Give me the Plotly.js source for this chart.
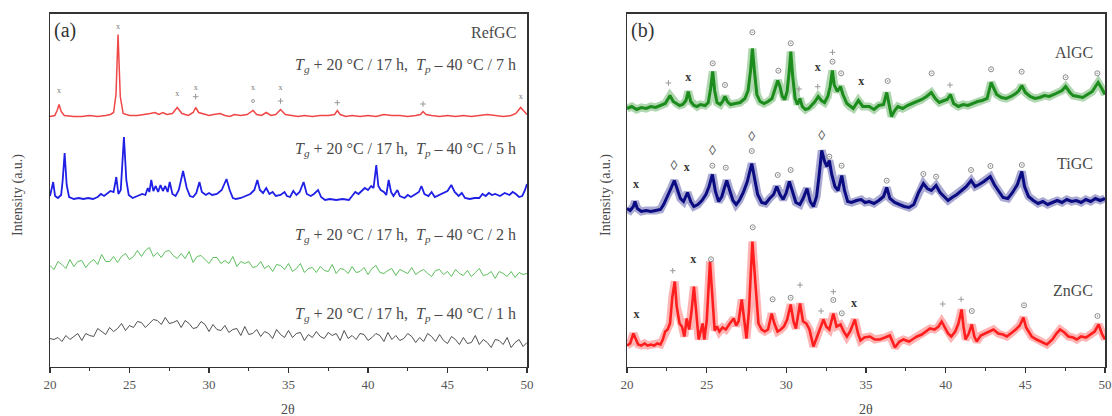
<!DOCTYPE html>
<html><head><meta charset="utf-8">
<script src="https://cdn.plot.ly/plotly-3.0.1.min.js"></script>
<style>html,body{margin:0;padding:0;background:#fff}#chart{width:1112px;height:416px}</style>
</head><body><div id="chart"></div>
<script>
// ---------------- DATA (2θ in degrees, intensity in a.u.) ----------------
// Panel (a)
const refTheta = [20,20.3,20.45,20.57,20.7,20.9,21.5,22,22.5,23,23.5,23.8,24.0,24.15,24.28,24.42,24.6,25,25.5,26,26.3,26.6,26.85,27.1,27.35,27.7,28.0,28.3,28.7,29.0,29.16,29.35,29.7,30.0,30.3,30.7,31.0,31.3,31.6,32.0,32.4,32.77,33.0,33.3,33.6,33.9,34.2,34.5,34.8,35.2,35.6,36.0,36.5,37.0,37.5,37.9,38.07,38.25,38.6,39.0,39.5,40,40.5,41,41.5,42,42.5,43,43.3,43.46,43.65,44,44.5,45,45.5,46,46.5,47,47.5,48,48.5,49,49.3,49.6,49.8,50];
const refInt   = [0,1,6,12,5,1,0,0,1,0,1,2,4,22,82,20,3,1,1,2,3,4,2,4,2,3,9,3,1,4,9,4,2,1,2,3,1,0,2,1,2,6,2,1,4,1,2,7,2,1,0,1,0,1,1,2,6,2,0,1,0,1,0,2,1,1,0,1,2,5,2,1,0,1,0,1,0,1,2,1,0,1,3,9,5,2];

const h5Theta = [20.0,20.1,20.2,20.32,20.5,20.7,20.8,20.92,21.05,21.2,21.5,21.8,22.1,22.4,22.7,23.0,23.2,23.4,23.6,23.8,24.0,24.17,24.3,24.45,24.65,24.8,24.95,25.2,25.5,25.8,26.0,26.15,26.25,26.37,26.5,26.65,26.8,26.95,27.1,27.25,27.4,27.53,27.7,27.9,28.1,28.37,28.6,28.8,29.0,29.2,29.4,29.55,29.8,30.0,30.2,30.5,30.8,31.1,31.3,31.5,31.7,32.0,32.3,32.6,32.85,33.04,33.2,33.4,33.6,33.8,34.0,34.2,34.5,34.75,34.9,35.1,35.3,35.5,35.7,35.95,36.15,36.4,36.6,36.86,37.05,37.3,37.6,38.0,38.4,38.8,39.0,39.2,39.4,39.6,39.8,40.0,40.2,40.35,40.52,40.65,40.8,41.0,41.15,41.3,41.45,41.6,41.85,42.0,42.3,42.5,42.7,43.0,43.2,43.36,43.55,43.8,44.0,44.2,44.5,44.8,45.0,45.24,45.45,45.7,45.9,46.1,46.4,46.7,47.0,47.2,47.4,47.6,47.8,48.0,48.3,48.6,48.9,49.1,49.3,49.5,49.7,49.85,50];
const h5Int   = [4,10,18,4,2,5,20,47,15,3,1,2,1,2,1,3,6,4,7,9,8,23,6,10,63,20,5,2,4,6,5,12,8,20,9,14,8,15,9,14,8,18,6,4,10,29,12,4,3,7,18,8,5,7,5,6,10,21,10,2,1,2,4,6,10,20,10,7,12,6,8,4,5,8,4,3,9,5,8,18,6,4,6,10,3,0,1,0,1,0,4,8,6,9,12,10,14,12,35,14,10,8,5,20,8,4,10,4,2,5,3,6,8,14,6,4,8,3,5,7,9,15,8,4,7,2,1,2,2,6,4,7,5,6,4,7,5,8,6,3,4,9,16];

const gridTheta = [20,20.25,20.5,20.75,21,21.25,21.5,21.75,22,22.25,22.5,22.75,23,23.25,23.5,23.75,24,24.25,24.5,24.75,25,25.25,25.5,25.75,26,26.25,26.5,26.75,27,27.25,27.5,27.75,28,28.25,28.5,28.75,29,29.25,29.5,29.75,30,30.25,30.5,30.75,31,31.25,31.5,31.75,32,32.25,32.5,32.75,33,33.25,33.5,33.75,34,34.25,34.5,34.75,35,35.25,35.5,35.75,36,36.25,36.5,36.75,37,37.25,37.5,37.75,38,38.25,38.5,38.75,39,39.25,39.5,39.75,40,40.25,40.5,40.75,41,41.25,41.5,41.75,42,42.25,42.5,42.75,43,43.25,43.5,43.75,44,44.25,44.5,44.75,45,45.25,45.5,45.75,46,46.25,46.5,46.75,47,47.25,47.5,47.75,48,48.25,48.5,48.75,49,49.25,49.5,49.75,50];
const h2Int = [11,7,15,12,8,17,10,15,16,9,14,17,12,22,15,15,20,14,20,23,17,20,26,20,26,29,20,24,19,25,26,21,18,23,18,25,14,20,21,17,13,19,19,13,16,13,20,10,15,13,15,9,10,15,8,11,5,12,11,7,13,5,8,13,4,8,9,4,10,6,5,12,3,8,7,3,10,4,5,9,2,8,11,4,3,6,8,1,7,5,3,9,2,5,7,3,0,6,7,2,5,0,7,3,1,6,0,4,8,1,2,5,-2,5,3,0,5,-1,4,2,3];
const h1Int = [8,7,9,5,11,7,10,13,6,13,11,10,18,15,12,19,15,18,23,16,21,19,25,24,19,23,27,26,22,29,23,24,26,19,26,23,18,19,25,22,15,22,17,16,21,14,17,18,11,20,12,13,17,10,15,13,8,17,12,9,16,9,13,14,6,12,9,15,10,8,14,11,13,6,16,8,11,7,13,12,6,9,13,11,5,14,7,11,6,8,13,10,4,9,5,13,10,5,12,6,3,10,7,2,9,3,4,11,2,7,4,-1,7,6,2,9,-1,4,7,0,4];

// Panel (b)
const alTheta = [20.0,20.3,20.6,20.9,21.2,21.5,21.8,22.1,22.4,22.7,22.9,23.1,23.3,23.5,23.7,23.85,24.0,24.2,24.4,24.6,24.9,25.1,25.25,25.38,25.5,25.65,25.85,26.0,26.15,26.3,26.5,26.8,27.1,27.4,27.6,27.75,27.87,28.0,28.15,28.35,28.6,28.85,29.1,29.3,29.46,29.6,29.75,29.9,30.05,30.18,30.28,30.4,30.55,30.7,30.85,31.0,31.2,31.4,31.6,31.8,32.0,32.2,32.4,32.6,32.75,32.89,33.0,33.2,33.4,33.55,33.8,34.0,34.2,34.52,34.8,35.2,35.5,35.8,36.1,36.3,36.45,36.6,36.8,37.0,37.3,37.6,37.9,38.2,38.5,38.8,39.1,39.35,39.6,39.9,40.1,40.3,40.5,40.8,41.1,41.4,41.7,42.0,42.3,42.6,42.85,43.0,43.2,43.5,43.8,44.1,44.4,44.6,44.78,45.0,45.3,45.6,45.9,46.2,46.5,46.8,47.1,47.3,47.53,47.8,48.0,48.3,48.6,48.9,49.2,49.4,49.57,49.8,50];
const alInt   = [8,10,7,9,8,10,9,11,13,21,15,13,11,12,16,25,15,11,10,12,11,14,28,45,26,14,12,15,20,15,12,13,14,18,26,45,68,45,22,15,13,15,18,28,36,30,20,17,25,45,65,40,18,12,18,10,7,8,11,15,20,16,14,20,30,46,32,25,30,22,13,10,8,16,10,10,7,11,12,24,10,0,6,10,8,11,13,15,17,20,24,18,14,16,17,22,13,10,12,11,13,15,16,18,34,28,22,19,18,20,23,26,31,24,20,18,19,21,20,22,24,26,30,24,21,20,19,22,25,30,34,28,22];

const tiTheta = [20.0,20.2,20.4,20.5,20.65,20.9,21.2,21.5,21.8,22.1,22.3,22.5,22.7,22.97,23.15,23.35,23.55,23.8,24.0,24.2,24.45,24.7,24.95,25.15,25.36,25.55,25.75,25.95,26.1,26.26,26.45,26.65,26.85,27.05,27.3,27.55,27.83,28.0,28.2,28.45,28.7,28.95,29.2,29.4,29.6,29.8,30.0,30.19,30.4,30.6,30.85,31.05,31.3,31.5,31.7,31.9,32.05,32.22,32.4,32.55,32.7,32.85,33.05,33.25,33.48,33.65,33.85,34.1,34.4,34.7,34.94,35.2,35.5,35.8,36.1,36.3,36.5,36.8,37.1,37.4,37.7,38.0,38.3,38.6,38.85,39.1,39.4,39.65,39.9,40.15,40.4,40.7,41.0,41.3,41.6,41.85,42.1,42.4,42.8,43.05,43.3,43.6,43.9,44.2,44.5,44.78,44.95,45.2,45.5,45.8,46.1,46.4,46.7,47.0,47.3,47.6,47.9,48.2,48.5,48.8,49.1,49.4,49.7,50];
const tiInt   = [8,6,10,15,8,5,6,5,6,7,12,20,26,36,28,18,15,24,15,10,12,16,22,30,42,25,15,20,28,36,26,16,12,16,24,35,53,40,22,14,13,18,22,30,22,17,24,35,24,14,12,18,28,15,10,20,40,66,55,50,56,42,30,26,41,26,15,14,16,17,14,15,13,16,20,29,18,14,12,10,9,12,24,33,28,26,31,24,20,16,19,22,26,30,36,30,32,35,40,32,26,19,18,24,32,45,30,20,16,13,15,12,14,16,14,17,15,16,14,17,15,18,16,18];

const znTheta = [20.0,20.2,20.4,20.55,20.7,20.9,21.1,21.3,21.5,21.7,21.9,22.1,22.25,22.4,22.55,22.7,22.85,23.0,23.12,23.3,23.45,23.6,23.75,23.9,24.05,24.2,24.35,24.5,24.62,24.75,24.85,25.0,25.21,25.35,25.5,25.65,25.8,26.0,26.2,26.45,26.7,26.85,27.0,27.2,27.35,27.5,27.65,27.87,28.05,28.25,28.45,28.65,28.85,29.08,29.25,29.45,29.65,29.85,30.05,30.27,30.45,30.6,30.86,31.05,31.25,31.45,31.7,31.9,32.1,32.33,32.5,32.7,32.95,33.15,33.4,33.6,33.8,34.0,34.3,34.5,34.65,34.9,35.25,35.55,35.88,36.2,36.5,36.82,37.1,37.35,37.7,38.0,38.2,38.5,38.8,39.02,39.3,39.55,39.75,39.95,40.15,40.35,40.6,40.8,41.0,41.12,41.25,41.45,41.64,41.8,41.95,42.2,42.5,42.8,43.0,43.3,43.6,43.84,44.1,44.4,44.65,44.88,45.05,45.4,45.7,46.0,46.35,46.7,46.95,47.18,47.45,47.7,48.0,48.23,48.5,48.8,49.1,49.35,49.6,49.8,50.0];
const znInt   = [6,8,18,12,7,6,8,6,7,6,8,7,12,20,22,28,55,70,45,28,25,15,33,22,40,65,35,12,20,28,12,30,90,55,21,25,20,24,22,28,33,26,30,52,30,13,40,110,70,28,22,20,22,38,28,20,22,25,32,47,30,23,48,30,28,22,5,14,22,32,25,22,38,25,27,20,15,20,32,18,11,14,15,12,12,14,16,4,10,12,10,13,15,17,20,23,22,25,30,24,18,15,20,28,42,25,12,18,27,15,10,16,18,20,22,18,17,15,18,22,26,34,24,15,12,10,7,12,18,22,19,15,14,12,15,14,17,20,27,18,12];

// Peak-identification symbols: [2θ, height a.u.]
const aCrossTheta = [20.57,24.28,28.0,29.16,32.77,34.5,49.6];
const aCrossY     = [275.8,339.5,272.5,278.8,278.2,278.2,269.8];
const aPlusTheta  = [29.16,34.5,38.07,43.46];
const aPlusY      = [269.8,265.5,263.8,262.5];
const aCircTheta  = [32.77];
const aCircY      = [265.5];

const bCircTheta = [25.38,26.15,27.87,29.5,30.28,32.9,33.44,36.36,39.12,42.85,44.77,47.53,49.52, 25.36,26.2,27.83,29.46,30.27,32.7,33.47,36.3,38.6,39.4,41.59,42.81,44.78, 25.27,27.89,29.14,30.27,32.95,33.48,41.64,44.92,49.53];
const bCircY     = [303.2,281.5,334.2,295.8,323.2,304.8,293.2,285.5,293.2,297.2,294.8,289.2,293.2, 200.8,198.8,215.5,191.5,196.5,209.8,200.8,185.8,192.5,189.8,196.5,200.5,201.5, 107.2,139.2,67.2,68.8,66.5,53.2,55.5,61.2,50.5];
const bPlusTheta = [22.6,30.8,31.97,32.9,40.27, 22.87,30.86,32.18,32.95,39.82,40.97];
const bPlusY     = [283.5,277.5,279.8,314.2,281.5, 95.8,81.5,55.5,74.8,62.5,67.2];
const bCrossTheta = [23.85,31.97,34.7, 20.56,23.75, 20.6,24.16,34.25];
const bCrossY     = [288.2,298.2,284.8, 181.5,198.2, 51.5,106.5,62.2];
const bDiaTheta = [22.95,25.36,27.83,32.22];
const bDiaY     = [199.8,214.8,229.2,230.5];

const xTickVals = [20,25,30,35,40,45,50];
const xTickText = ["20","25","30","35","40","45","50"];

// ---------------- STYLE / POSITIONS ----------------
const SERIF = '"Liberation Serif", serif';
const TXT = "#4a4a4a";
function shift(arr, off){ return arr.map(v => v + off); }
function line(x, y, off, color, width, xa, ya){
  return {type:"scatter", mode:"lines", x:x, y:shift(y, off), xaxis:xa, yaxis:ya,
          line:{color:color, width:width}, hoverinfo:"skip", showlegend:false};
}
function sym(x, y, xa, ya, symbol, size, color, lw){
  return {type:"scatter", mode:"markers", x:x, y:y, xaxis:xa, yaxis:ya, showlegend:false, hoverinfo:"skip",
          marker:{symbol:symbol, size:size, color:color, line:{color:color, width:lw}}};
}
function txt(x, y, xa, ya, t, size, color, bold){
  return {type:"scatter", mode:"text", x:x, y:y, xaxis:xa, yaxis:ya, showlegend:false, hoverinfo:"skip",
          text:x.map(()=>t), textposition:"middle center",
          textfont:{family:SERIF, size:size, color:color, weight: bold ? 700 : 400}};
}

const traces = [
  line(gridTheta, h1Int, 20, "#3c3c3c", 0.9, "x", "y"),
  line(gridTheta, h2Int, 90, "#4cb84c", 0.9, "x", "y"),
  line(h5Theta, h5Int, 166.5, "#1f1fe6", 1.8, "x", "y"),
  line(refTheta, refInt, 250, "#f04646", 1.5, "x", "y"),
  txt(aCrossTheta, aCrossY, "x", "y", "x", 8, "#777", false),
  sym(aPlusTheta, aPlusY, "x", "y", "cross-thin-open", 4, "#999", 1),
  sym(aCircTheta, aCircY, "x", "y", "circle-open", 3, "#999", 1),

  line(znTheta, znInt, 15, "rgba(255,40,40,0.35)", 8, "x2", "y2"),
  line(tiTheta, tiInt, 150, "rgba(12,12,130,0.35)", 8, "x2", "y2"),
  line(alTheta, alInt, 250, "rgba(28,140,28,0.35)", 8, "x2", "y2"),
  line(znTheta, znInt, 15, "#ff1e1e", 2.6, "x2", "y2"),
  line(tiTheta, tiInt, 150, "#0c0c82", 3, "x2", "y2"),
  line(alTheta, alInt, 250, "#1c8c1c", 3, "x2", "y2"),
  sym(bCircTheta, bCircY, "x2", "y2", "circle-open-dot", 5, "#8a8a8a", 1),
  sym(bPlusTheta, bPlusY, "x2", "y2", "cross-thin-open", 4, "#999", 1),
  txt(bCrossTheta, bCrossY, "x2", "y2", "x", 12, "#333", true),
  txt(bDiaTheta, bDiaY, "x2", "y2", "◊", 14, "#555", false)
];

function xax(domain){
  return {domain:domain, range:[20,50], showgrid:false, zeroline:false, showline:true, mirror:true,
          linecolor:"#333", linewidth:1.5, ticks:"outside", ticklen:5, tickwidth:1.3, tickcolor:"#333",
          tickvals:xTickVals, ticktext:xTickText, tickfont:{family:SERIF, size:13, color:"#555"},
          minor:{dtick:2.5, tick0:20, ticks:"outside", ticklen:3, tickwidth:1.2, tickcolor:"#333", showgrid:false},
          fixedrange:true};
}
function yax(anchor){
  return {domain:[49.5/416, 402.5/416], range:[0,353], anchor:anchor, showgrid:false, zeroline:false,
          showline:true, mirror:true, linecolor:"#333", linewidth:1.5, ticks:"", showticklabels:false, fixedrange:true};
}

const sub = (s)=>"<sub><i>"+s+"</i></sub>";
const cond = (h)=>"<i>T</i>"+sub("g")+" + 20 °C / 17 h,  <i>T</i>"+sub("p")+" – 40 °C / "+h+" h";
function ann(x, y, text, xref, yref, opts){
  return Object.assign({x:x, y:y, xref:xref, yref:yref, text:text, showarrow:false,
    font:{family:SERIF, size:16, color:TXT}, xanchor:"right", yanchor:"middle"}, opts||{});
}

const layout = {
  width:1112, height:416, margin:{l:0, r:0, t:0, b:0},
  paper_bgcolor:"#fff", plot_bgcolor:"#fff", showlegend:false,
  font:{family:SERIF},
  xaxis: xax([50/1112, 527/1112]),
  yaxis: yax("x"),
  xaxis2: Object.assign(xax([627/1112, 1105/1112]), {anchor:"y2"}),
  yaxis2: yax("x2"),
  annotations:[
    ann(20.15, 336.5, "(a)", "x", "y", {xanchor:"left", font:{family:SERIF, size:20, color:"#333"}}),
    ann(49.45, 334.5, "RefGC", "x", "y"),
    ann(49.45, 301, cond(7), "x", "y"),
    ann(49.45, 217, cond(5), "x", "y"),
    ann(49.45, 131, cond(2), "x", "y"),
    ann(49.45, 52, cond(1), "x", "y"),
    ann(20.15, 336.5, "(b)", "x2", "y2", {xanchor:"left", font:{family:SERIF, size:20, color:"#333"}}),
    ann(49.4, 314.5, "AlGC", "x2", "y2"),
    ann(49.4, 203.5, "TiGC", "x2", "y2"),
    ann(49.4, 76.5, "ZnGC", "x2", "y2"),
    ann(18/1112, 1-195/416, "Intensity (a.u.)", "paper", "paper", {xanchor:"center", textangle:-90, font:{family:SERIF, size:14, color:TXT}}),
    ann(606/1112, 1-195/416, "Intensity (a.u.)", "paper", "paper", {xanchor:"center", textangle:-90, font:{family:SERIF, size:14, color:TXT}}),
    ann(288/1112, 1-409/416, "2θ", "paper", "paper", {xanchor:"center", font:{family:SERIF, size:14, color:TXT}}),
    ann(866/1112, 1-409/416, "2θ", "paper", "paper", {xanchor:"center", font:{family:SERIF, size:14, color:TXT}})
  ]
};

Plotly.newPlot("chart", traces, layout, {staticPlot:true, displayModeBar:false});
</script>
</body></html>
